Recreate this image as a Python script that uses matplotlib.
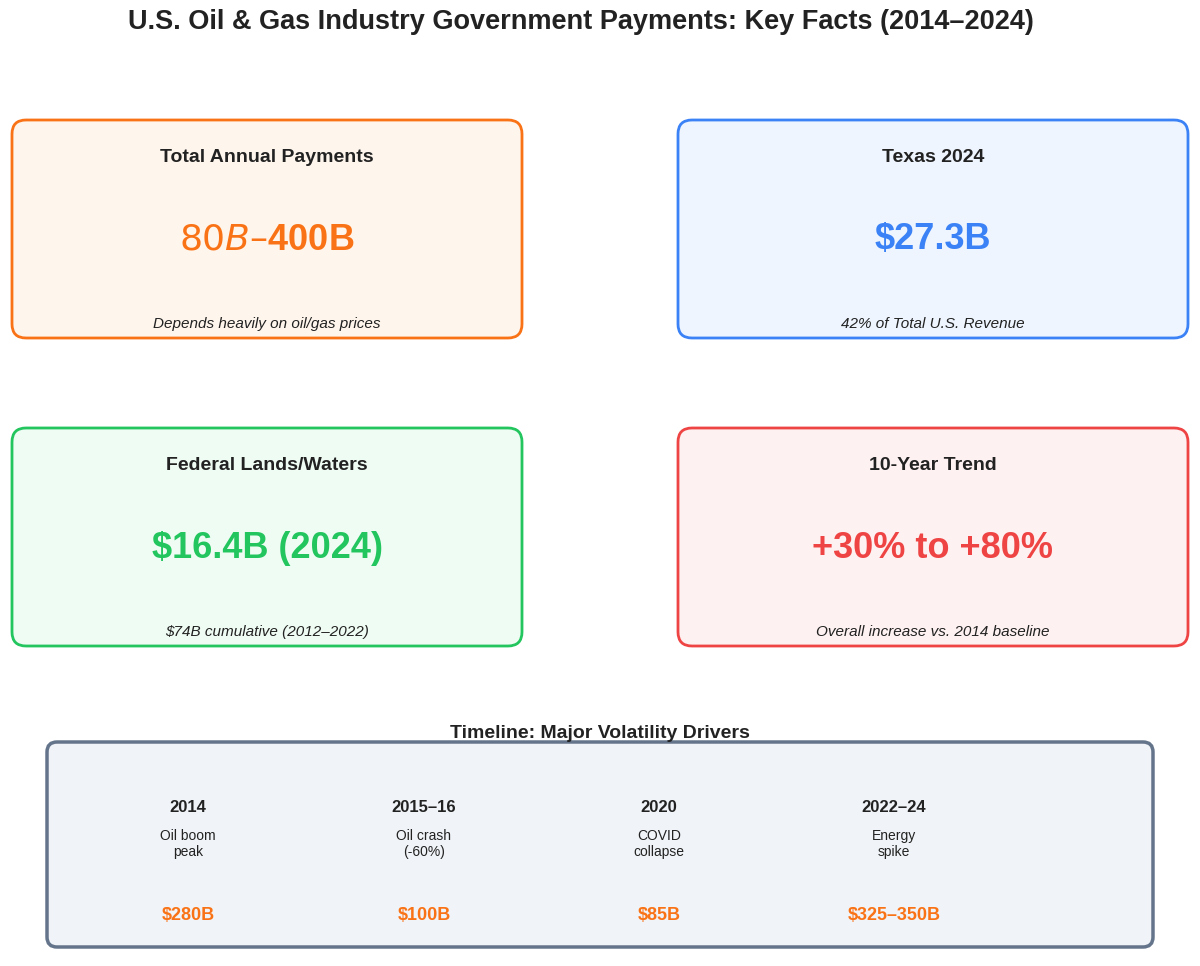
import matplotlib
matplotlib.use("Agg")
import matplotlib.pyplot as plt
from matplotlib.patches import FancyBboxPatch

plt.rcParams['font.family'] = ['Liberation Sans', 'DejaVu Sans']

card_titles = ['Total Annual Payments', 'Texas 2024', 'Federal Lands/Waters', '10-Year Trend']
card_values = ['$80B–$400B', '$27.3B', '$16.4B (2024)', '+30% to +80%']
card_notes = ['Depends heavily on oil/gas prices', '42% of Total U.S. Revenue',
              '$74B cumulative (2012–2022)', 'Overall increase vs. 2014 baseline']
card_edge = ['#f97316', '#3b82f6', '#22c55e', '#ef4444']
card_face = ['#fef5ec', '#eef5fe', '#effcf3', '#fef1f1']

years = ['2014', '2015–16', '2020', '2022–24']
events = ['Oil boom\npeak', 'Oil crash\n(-60%)', 'COVID\ncollapse', 'Energy\nspike']
amounts = ['$280B', '$100B', '$85B', '$325–350B']

fig = plt.figure(figsize=(12, 9.66), dpi=100)
ax = fig.add_axes([0, 0, 1, 1])
ax.set_xlim(0, 1200)
ax.set_ylim(966, 0)
ax.axis('off')

ax.text(581, 22, 'U.S. Oil & Gas Industry Government Payments: Key Facts (2014–2024)',
        ha='center', va='center', fontsize=19.5, fontweight='bold', color='#222222')

pos = [(12, 120), (678, 120), (12, 428), (678, 428)]
w, h = 510, 218
for i, (x, y) in enumerate(pos):
    ax.add_patch(FancyBboxPatch((x, y), w, h, boxstyle='round,pad=0,rounding_size=14',
                                fc=card_face[i], ec=card_edge[i], lw=2))
    cx = x + w / 2
    ax.text(cx, y + 38, card_titles[i], ha='center', va='center', fontsize=14,
            fontweight='bold', color='#222222')
    ax.text(cx, y + 120, card_values[i], ha='center', va='center', fontsize=26,
            fontweight='bold', color=card_edge[i])
    ax.text(cx, y + 204, card_notes[i], ha='center', va='center', fontsize=11,
            style='italic', color='#222222')

ax.add_patch(FancyBboxPatch((47, 742), 1106, 205, boxstyle='round,pad=0,rounding_size=10',
                            fc='#f0f3f7', ec='#64748b', lw=2.5))
ax.text(600, 733, 'Timeline: Major Volatility Drivers', ha='center', va='center',
        fontsize=14, fontweight='bold', color='#222222')
xs = [188, 424, 659, 894]
for i, x in enumerate(xs):
    ax.text(x, 807, years[i], ha='center', va='center', fontsize=12, fontweight='bold', color='#222222')
    ax.text(x, 844, events[i], ha='center', va='center', fontsize=10, color='#222222', linespacing=1.1)
    ax.text(x, 916, amounts[i], ha='center', va='center', fontsize=13, fontweight='bold', color='#f97316')

fig.savefig('out.png', dpi=100)
